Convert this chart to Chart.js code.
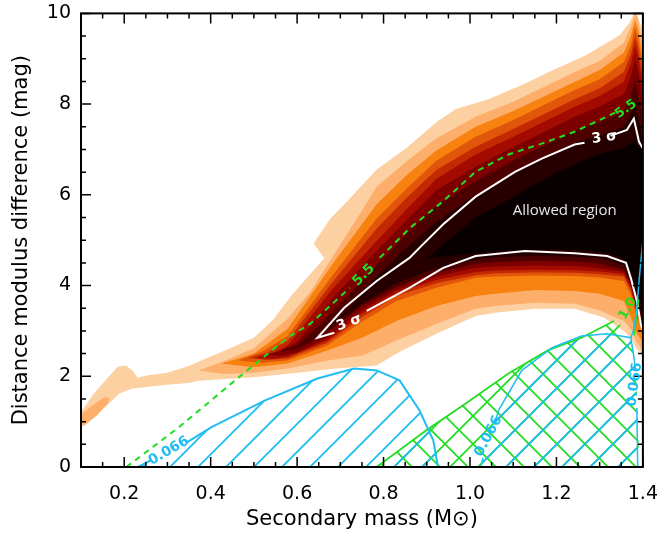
<!DOCTYPE html>
<html>
<head>
<meta charset="utf-8">
<script src="https://cdn.jsdelivr.net/npm/chart.js"></script>
<style>
  html, body { margin: 0; padding: 0; background: #fff; }
  canvas { display: block; }
</style>
</head>
<body>
<canvas id="chart" width="666" height="536"></canvas>
<script>
// axis ticks
const xTicks = [0.2, 0.4, 0.6, 0.8, 1.0, 1.2, 1.4];
const yTicks = [0, 2, 4, 6, 8, 10];

// filled contour levels, outer to inner: top edge left->right, bottom edge right->left
const lvl1Top = [[0.100,1.21],[0.130,1.62],[0.162,1.97],[0.185,2.21],[0.203,2.24],[0.219,2.13],[0.231,1.97],[0.254,2.02],[0.300,2.08],[0.352,2.24],[0.405,2.46],[0.421,2.52],[0.500,2.85],[0.545,3.25],[0.586,3.77],[0.663,4.61],[0.638,4.93],[0.677,5.48],[0.716,5.86],[0.784,6.56],[0.855,7.05],[0.922,7.60],[0.967,7.89],[1.042,8.11],[1.120,8.42],[1.196,8.77],[1.268,9.08],[1.346,9.52],[1.369,9.80],[1.379,10.0],[1.386,10.0],[1.400,9.60]];
const lvl1Bot = [[1.400,2.45],[1.386,2.60],[1.372,2.85],[1.356,3.00],[1.311,3.29],[1.242,3.49],[1.150,3.49],[1.059,3.40],[1.013,3.33],[0.922,2.94],[0.830,2.50],[0.784,2.24],[0.690,2.17],[0.601,2.08],[0.500,1.98],[0.372,1.90],[0.352,1.86],[0.288,1.80],[0.219,1.73],[0.189,1.62],[0.160,1.36],[0.130,1.10],[0.100,0.86]];
const lvl2Blob = [[0.100,0.96],[0.100,1.15],[0.105,1.20],[0.137,1.43],[0.155,1.54],[0.166,1.52],[0.162,1.40],[0.137,1.14],[0.109,0.92]];
const lvl2Top = [[0.372,2.13],[0.430,2.33],[0.500,2.62],[0.578,3.27],[0.630,3.85],[0.680,4.60],[0.730,5.35],[0.784,6.18],[0.855,6.75],[0.922,7.25],[1.013,7.72],[1.100,8.05],[1.242,8.71],[1.300,8.95],[1.356,9.36],[1.372,9.70],[1.382,10.0],[1.388,9.90],[1.400,9.30]];
const lvl2Bot = [[1.400,2.55],[1.386,2.75],[1.372,3.05],[1.356,3.22],[1.300,3.45],[1.242,3.60],[1.150,3.62],[1.059,3.55],[1.013,3.49],[0.922,3.15],[0.830,2.79],[0.750,2.45],[0.670,2.35],[0.578,2.17],[0.500,2.08],[0.430,2.05]];
const lvl3Top = [[0.425,2.28],[0.500,2.50],[0.578,3.05],[0.680,4.45],[0.784,5.79],[0.855,6.45],[0.922,6.98],[1.013,7.50],[1.100,7.85],[1.242,8.49],[1.300,8.75],[1.356,9.14],[1.372,9.50],[1.382,9.85],[1.390,9.60],[1.400,9.00]];
const lvl3Bot = [[1.400,2.75],[1.386,2.95],[1.372,3.30],[1.356,3.66],[1.300,3.82],[1.242,3.88],[1.150,3.90],[1.059,3.82],[1.013,3.77],[0.922,3.55],[0.830,3.22],[0.750,2.85],[0.670,2.57],[0.578,2.28],[0.500,2.20]];
const lvl4Top = [[0.464,2.35],[0.520,2.55],[0.578,2.89],[0.680,4.20],[0.784,5.48],[0.855,6.15],[0.922,6.75],[1.013,7.28],[1.100,7.65],[1.242,8.31],[1.300,8.55],[1.356,8.93],[1.372,9.30],[1.382,9.70],[1.390,9.40],[1.400,8.80]];
const lvl4Bot = [[1.400,3.00],[1.386,3.30],[1.372,3.80],[1.356,4.10],[1.300,4.18],[1.242,4.21],[1.150,4.22],[1.059,4.20],[1.013,4.17],[0.922,3.95],[0.830,3.66],[0.750,3.20],[0.670,2.68],[0.578,2.35],[0.520,2.30]];
const lvl5Top = [[0.487,2.41],[0.530,2.52],[0.578,2.79],[0.680,4.05],[0.784,5.26],[0.855,5.95],[0.922,6.55],[1.013,7.06],[1.100,7.45],[1.242,8.11],[1.300,8.35],[1.356,8.71],[1.372,9.10],[1.382,9.50],[1.390,9.20],[1.400,8.60]];
const lvl5Bot = [[1.400,3.05],[1.386,3.40],[1.372,3.90],[1.356,4.20],[1.300,4.25],[1.242,4.28],[1.150,4.29],[1.059,4.27],[1.013,4.23],[0.922,4.05],[0.830,3.77],[0.750,3.30],[0.670,2.74],[0.578,2.39],[0.530,2.36]];
const lvl6Top = [[0.505,2.41],[0.545,2.52],[0.578,2.68],[0.680,3.90],[0.784,4.98],[0.855,5.70],[0.922,6.35],[1.013,6.89],[1.100,7.28],[1.242,7.94],[1.300,8.18],[1.356,8.49],[1.372,8.90],[1.382,9.30],[1.390,9.00],[1.400,8.40]];
const lvl6Bot = [[1.400,3.10],[1.386,3.45],[1.372,3.95],[1.356,4.25],[1.300,4.31],[1.242,4.34],[1.150,4.35],[1.059,4.33],[1.013,4.30],[0.922,4.12],[0.830,3.84],[0.750,3.38],[0.670,2.79],[0.578,2.43],[0.545,2.38]];
const lvl7Top = [[0.526,2.48],[0.560,2.55],[0.600,2.75],[0.680,3.70],[0.784,4.76],[0.855,5.45],[0.922,6.10],[1.013,6.62],[1.100,7.05],[1.242,7.72],[1.300,7.95],[1.356,8.22],[1.372,8.60],[1.382,9.00],[1.390,8.70],[1.400,8.00]];
const lvl7Bot = [[1.400,3.15],[1.386,3.50],[1.372,4.00],[1.356,4.30],[1.300,4.38],[1.242,4.43],[1.150,4.44],[1.059,4.42],[1.013,4.39],[0.922,4.20],[0.830,3.90],[0.750,3.45],[0.670,2.85],[0.600,2.52],[0.560,2.45]];
const lvl8Top = [[0.560,2.55],[0.600,2.68],[0.660,3.20],[0.784,4.45],[0.855,5.15],[0.922,5.75],[1.013,6.30],[1.100,6.75],[1.242,7.42],[1.300,7.60],[1.356,7.85],[1.372,8.20],[1.382,8.50],[1.390,8.20],[1.400,7.60]];
const lvl8Bot = [[1.400,3.20],[1.386,3.55],[1.372,4.05],[1.356,4.35],[1.300,4.48],[1.242,4.53],[1.150,4.55],[1.059,4.52],[1.013,4.48],[0.922,4.28],[0.830,3.97],[0.750,3.55],[0.660,2.90],[0.600,2.60]];
const lvl9Top = [[0.660,3.00],[0.720,3.50],[0.784,4.20],[0.855,4.85],[0.922,5.40],[1.013,6.00],[1.100,6.45],[1.242,7.15],[1.300,7.30],[1.356,7.50],[1.372,7.80],[1.382,8.00],[1.390,7.70],[1.400,7.20]];
const lvl9Bot = [[1.400,3.30],[1.386,3.70],[1.372,4.15],[1.356,4.45],[1.300,4.60],[1.242,4.63],[1.150,4.65],[1.059,4.62],[1.013,4.57],[0.922,4.38],[0.830,4.05],[0.750,3.60]];
const lvl10Top = [[0.900,4.60],[0.950,5.00],[1.013,5.50],[1.100,5.95],[1.200,6.50],[1.300,6.90],[1.360,7.05],[1.380,7.20],[1.400,6.90]];
const lvl10Bot = [[1.400,3.50],[1.386,3.90],[1.372,4.30],[1.356,4.60],[1.300,4.75],[1.200,4.80],[1.100,4.78],[1.013,4.72],[0.950,4.65]];

// 3 sigma contour (white)
const sigmaUpA = [[0.686,2.96],[0.647,2.85],[0.709,3.51],[0.784,4.10],[0.860,4.61],[0.887,4.87],[0.938,5.35],[1.013,5.96],[1.105,6.51],[1.166,6.80],[1.242,7.11],[1.265,7.15]];
const sigmaUpB = [[1.325,7.30],[1.363,7.43],[1.379,7.68],[1.391,7.17],[1.400,7.02]];
const sigmaLow = [[0.761,3.44],[0.860,3.95],[0.938,4.39],[1.013,4.65],[1.127,4.76],[1.242,4.71],[1.317,4.65],[1.361,4.50],[1.372,4.17],[1.386,3.66],[1.395,3.16],[1.400,3.00]];

// 5.5 contour (green dashed)
const dashA = [[0.205,0.00],[0.327,0.88],[0.464,1.97],[0.578,2.85],[0.631,3.16],[0.722,3.95]];
const dashB = [[0.791,4.61],[0.860,5.26],[0.938,5.86],[1.013,6.51],[1.089,6.89],[1.166,7.13],[1.242,7.39],[1.340,7.83]];

// 0.066 contours (cyan) and 1.0 contour (green)
const cyanA1 = [[0.232,0.00],[0.262,0.15]];
const cyanA2 = [[0.343,0.53],[0.402,0.88],[0.526,1.47],[0.647,1.95],[0.732,2.17],[0.784,2.13],[0.837,1.91],[0.883,1.25],[0.915,0.59],[0.926,0.00]];
const cyanC1 = [[1.025,0.00],[1.030,0.20]];
const cyanC2 = [[1.058,1.00],[1.066,1.25],[1.120,2.13],[1.190,2.63],[1.258,2.89],[1.317,2.94],[1.349,2.89],[1.372,2.85],[1.378,2.50],[1.383,2.15]];
const cyanC3 = [[1.386,1.30],[1.388,0.00]];
const cyanEdge = [[1.372,2.85],[1.378,3.00],[1.386,3.50],[1.392,4.20],[1.400,5.00]];
const greenEdge = [[0.784,0.00],[0.899,0.81],[0.990,1.40],[1.089,2.06],[1.180,2.57],[1.258,2.85],[1.333,3.22]];
const greenClose = [[1.370,3.00],[1.385,2.00],[1.392,0.00]];
const greenTick = [[1.380,2.90],[1.390,3.70]];

// in-plot labels
const labelText = ['0.066', '0.066', '0.066', '1.0', '5.5', '5.5', '3 σ', '3 σ', 'Allowed region'];
const labelX = [0.303, 1.043, 1.381, 1.365, 0.754, 1.361, 0.720, 1.311, 1.219];
const labelY = [0.35, 0.68, 1.82, 3.49, 4.23, 7.89, 3.18, 7.26, 5.66];

const xTitle = 'Secondary mass (M\u2299)';
const yTitle = 'Distance modulus difference (mag)';

const CYAN = '#1fbdf0';
const GREEN = '#22dd22';
const FONT = 'DejaVu Sans';

function hatch(color, both) {
  const s = 28;
  const c = document.createElement('canvas');
  c.width = c.height = s;
  const g = c.getContext('2d');
  g.strokeStyle = color;
  g.lineWidth = 1.8;
  g.beginPath();
  g.moveTo(-2, s + 2); g.lineTo(s + 2, -2);
  g.moveTo(-2, 2); g.lineTo(2, -2);
  g.moveTo(s - 2, s + 2); g.lineTo(s + 2, s - 2);
  if (both) {
    g.moveTo(-2, -2); g.lineTo(s + 2, s + 2);
    g.moveTo(s - 2, -2); g.lineTo(s + 2, 2);
    g.moveTo(-2, s - 2); g.lineTo(2, s + 2);
  }
  g.stroke();
  const p = g.createPattern(c, 'repeat');
  p.setTransform(new DOMMatrix([1, 0, 0, 1, 11, 10]));
  return p;
}

const datasets = [];
function add(pts, opts) {
  datasets.push(Object.assign({
    data: pts.map(([x, y]) => ({x, y})),
    showLine: true, pointRadius: 0, tension: 0
  }, opts));
}
function area(pts, fill, order) {
  add(pts.concat([pts[0]]), {fill: 'shape', backgroundColor: fill, borderColor: 'rgba(0,0,0,0)', borderWidth: 0, order});
}
function line(pts, color, width, dash) {
  add(pts, {fill: false, borderColor: color, borderWidth: width, borderDash: dash || [], order: 0});
}

const levels = [
  [lvl1Top, lvl1Bot, '#fdd0a2'],
  [lvl2Top, lvl2Bot, '#fdae6b'],
  [lvl3Top, lvl3Bot, '#f8820f'],
  [lvl4Top, lvl4Bot, '#e2560b'],
  [lvl5Top, lvl5Bot, '#c42a02'],
  [lvl6Top, lvl6Bot, '#a30b00'],
  [lvl7Top, lvl7Bot, '#7c0000'],
  [lvl8Top, lvl8Bot, '#4d0000'],
  [lvl9Top, lvl9Bot, '#260000'],
  [lvl10Top, lvl10Bot, '#080000']
];
levels.forEach(([top, bot, col], i) => area(top.concat(bot), col, 40 - i));
area(lvl2Blob, '#fdae6b', 38);

area(greenEdge.concat(greenClose), hatch(GREEN, true), 8);
area(cyanA1.concat(cyanA2), hatch(CYAN, false), 7);
area(cyanC1.concat(cyanC2, cyanC3), hatch(CYAN, false), 6);

line(cyanA1, CYAN, 2);
line(cyanA2, CYAN, 2);
line(cyanC1, CYAN, 1.5);
line(cyanC2, CYAN, 1.5);
line(cyanC3, CYAN, 1.5);
line(cyanEdge, CYAN, 1.5);
line(greenEdge, GREEN, 1.8);
line(greenTick, GREEN, 1.5);
line(dashA, GREEN, 2, [6, 5]);
line(dashB, GREEN, 2, [6, 5]);
line(sigmaUpA, '#ffffff', 2);
line(sigmaUpB, '#ffffff', 2);
line(sigmaLow, '#ffffff', 2);

// box with inward ticks on all four sides, and the in-plot labels
const decor = {
  id: 'decor',
  afterDatasetsDraw(chart) {
    const {ctx, chartArea: a, scales: {x, y}} = chart;
    ctx.save();
    ctx.strokeStyle = '#000';
    ctx.lineWidth = 1.5;
    ctx.beginPath();
    for (let i = 2; i <= 28; i++) {
      const px = x.getPixelForValue(i * 0.05);
      const len = i % 4 === 0 ? 10 : 5;
      ctx.moveTo(px, a.bottom); ctx.lineTo(px, a.bottom - len);
      ctx.moveTo(px, a.top); ctx.lineTo(px, a.top + len);
    }
    for (let i = 0; i <= 20; i++) {
      const py = y.getPixelForValue(i * 0.5);
      const len = i % 4 === 0 ? 10 : 5;
      ctx.moveTo(a.left, py); ctx.lineTo(a.left + len, py);
      ctx.moveTo(a.right, py); ctx.lineTo(a.right - len, py);
    }
    ctx.stroke();
    ctx.lineWidth = 2;
    ctx.strokeRect(a.left, a.top, a.right - a.left, a.bottom - a.top);

    const style = [
      [CYAN, -30, 'bold 14px'], [CYAN, -62, 'bold 14px'], [CYAN, -82, 'bold 14px'],
      [GREEN, -60, 'bold 13px'], [GREEN, -45, 'bold 14px'], [GREEN, -35, 'bold 13px'],
      ['#ffffff', -20, 'bold 14px'], ['#ffffff', -8, 'bold 14px'], ['#e6e6e6', 0, '15px']
    ];
    ctx.textAlign = 'center';
    ctx.textBaseline = 'middle';
    labelText.forEach((t, i) => {
      const [col, rot, f] = style[i];
      ctx.save();
      ctx.translate(x.getPixelForValue(labelX[i]), y.getPixelForValue(labelY[i]));
      ctx.rotate(rot * Math.PI / 180);
      ctx.fillStyle = col;
      ctx.font = f + ' ' + (i === 8 ? '"Open Sans"' : FONT);
      ctx.fillText(t, 0, 0);
      ctx.restore();
    });
    ctx.restore();
  }
};

new Chart(document.getElementById('chart'), {
  type: 'scatter',
  data: {datasets},
  plugins: [decor],
  options: {
    responsive: false,
    animation: false,
    devicePixelRatio: 1,
    events: [],
    layout: {padding: {left: 0, right: 17, top: 11, bottom: 0}},
    plugins: {legend: {display: false}, tooltip: {enabled: false}},
    scales: {
      x: {
        type: 'linear', min: 0.1, max: 1.4,
        afterFit: s => { s.height = 69; },
        afterBuildTicks: s => { s.ticks = xTicks.map(v => ({value: v})); },
        grid: {display: false},
        border: {display: false},
        ticks: {color: '#000', font: {family: FONT, size: 19}, padding: 8, maxRotation: 0, autoSkip: false,
                callback: v => v.toFixed(1)},
        title: {display: true, text: xTitle, color: '#000', font: {family: FONT, size: 21}, padding: {top: 0, bottom: 4}}
      },
      y: {
        type: 'linear', min: 0, max: 10,
        afterFit: s => { s.width = 81; },
        afterBuildTicks: s => { s.ticks = yTicks.map(v => ({value: v})); },
        grid: {display: false},
        border: {display: false},
        ticks: {color: '#000', font: {family: FONT, size: 19}, padding: 2, autoSkip: false},
        title: {display: true, text: yTitle, color: '#000', font: {family: FONT, size: 21}, padding: {top: 9, bottom: 0}}
      }
    }
  }
});
</script>
</body>
</html>
